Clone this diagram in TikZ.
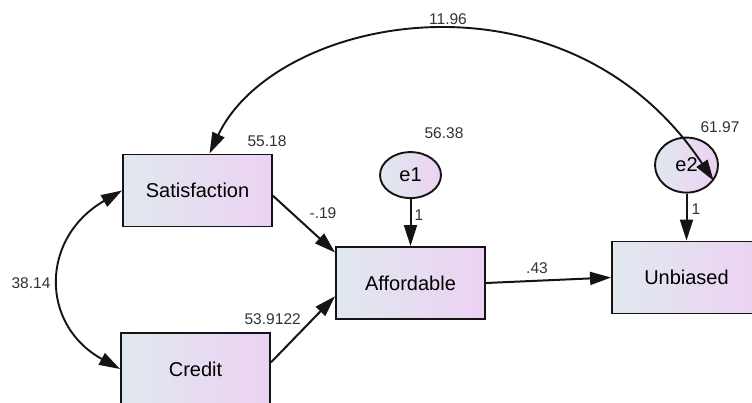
\documentclass[tikz,border=0pt]{standalone}
\usepackage{fontspec}
\setmainfont{Liberation Sans}
\usetikzlibrary{arrows.meta, positioning, shapes.geometric}
\definecolor{boxleft}{HTML}{E0E8EE}
\definecolor{boxright}{HTML}{ECD2F3}
\definecolor{edge}{HTML}{141414}
\definecolor{est}{HTML}{333333}

\begin{document}
\begin{tikzpicture}[
  x=1pt, y=-1pt,
  font=\fontsize{20}{22}\selectfont,
  V/.style={
    draw=edge, line width=1.9pt, left color=boxleft, right color=boxright,
    minimum width=149pt, minimum height=72pt, inner sep=0pt
  },
  E/.style={
    ellipse, draw=edge, line width=1.9pt, left color=boxleft, right color=boxright,
    inner sep=0pt
  },
  arr/.style={-{Triangle[length=21pt,width=13pt]}, line width=2pt, edge},
  cov/.style={{Triangle[length=21pt,width=13pt]}-{Triangle[length=21pt,width=13pt]}, line width=1.9pt, edge},
  est/.style={font=\fontsize{15.5}{17}\selectfont, text=est, inner sep=0pt}
]
  \useasboundingbox[fill=white] (0,0) rectangle (752,403);
  \clip (0,0) rectangle (752,403);

  \node[V] (sat) at (197.5,190.5) {Satisfaction};
  \node[V] (cred) at (195.5,369) {Credit};
  \node[V] (aff) at (410.5,283) {Affordable};
  \node[V] (unb) at (686.5,277.5) {Unbiased};
  \node[E, minimum width=61pt, minimum height=46pt, above=47pt of aff] (e1) {e1};
  \node[E, minimum width=63pt, minimum height=55pt, above=47pt of unb] (e2) {e2};

  \draw[arr] (sat.-4) -- (aff.158);
  \draw[arr] (cred.5) -- (aff.190);
  \draw[arr] (aff.east) -- (unb.west);
  \draw[arr] (e1) -- (aff);
  \draw[arr] (e2) -- (unb);
  \draw[cov] (sat.72) .. controls (275,15) and (565,-42) .. (e2.-30);
  \draw[cov] (sat.west) .. controls (40,238) and (40,325) .. (cred.west);

  % estimates
  \node[est] (v1196) at (448,19) {11.96};
  \node[est] (v5518) at (267,141) {55.18};
  \node[est] (v5638) at (444,133) {56.38};
  \node[est] (v6197) at (720,127) {61.97};
  \node[est] (v3814) at (31,283) {38.14};
  \node[est] (v5391) at (264,319) {53.91};
  \node[est] (w022) at (290,319) {.22};
  \node[est] (w019) at (323,213) {-.19};
  \node[est] (w043) at (537,268) {.43};
  \node[est] (w1a) at (419,215) {1};
  \node[est] (w1b) at (696,209) {1};
\end{tikzpicture}
\end{document}
